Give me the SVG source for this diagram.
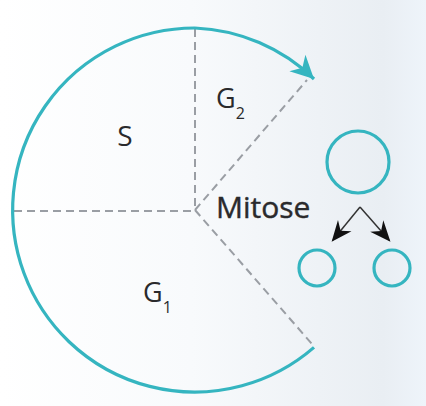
<svg xmlns="http://www.w3.org/2000/svg" width="426" height="406" viewBox="0 0 426 406">
<defs>
<linearGradient id="bg" x1="0" y1="0" x2="1" y2="0">
<stop offset="0" stop-color="#ffffff"/>
<stop offset="0.45" stop-color="#f8fafc"/>
<stop offset="0.9" stop-color="#e9eef3"/>
<stop offset="1" stop-color="#eef4fa"/>
</linearGradient>
<marker id="tealhead" markerUnits="userSpaceOnUse" markerWidth="30" markerHeight="30" refX="2" refY="0" viewBox="-22 -12 26 24" orient="auto" overflow="visible">
<path d="M2,0 L-18,-10 L-12,0 L-18,10 Z" fill="#35b5c0"/>
</marker>
<marker id="blackhead" markerUnits="userSpaceOnUse" markerWidth="24" markerHeight="24" refX="0" refY="0" viewBox="-20 -10 22 20" orient="auto" overflow="visible">
<path d="M2,0 L-17,-8 L-11,0 L-17,8 Z" fill="#111"/>
</marker>
</defs>
<style>
.teal{fill:none;stroke:#35b5c0;stroke-width:3.2}
.dash{fill:none;stroke:#9a9ea4;stroke-width:2;stroke-dasharray:8 5}
.lbl{font-family:"Open Sans","Noto Sans",sans-serif;fill:#2a2a2c}
.blk{fill:none;stroke:#333;stroke-width:1.5}
</style>
<rect width="426" height="406" fill="url(#bg)"/>
<g id="connectors">
<line class="dash" x1="195" y1="29" x2="195" y2="210"/>
<line class="dash" x1="14" y1="211" x2="195" y2="211"/>
<line class="dash" x1="195" y1="210" x2="307" y2="80"/>
<line class="dash" x1="195" y1="210" x2="312" y2="344"/>
<path id="cycle-arc" class="teal" d="M195,28 A182,182 0 1 0 314,347.4"/>
<path id="cycle-arrow" class="teal" d="M195,28 A182,182 0 0 1 314,79" marker-end="url(#tealhead)"/>
<line class="blk" x1="360" y1="207" x2="333" y2="240" marker-end="url(#blackhead)"/>
<line class="blk" x1="360" y1="207" x2="389" y2="240" marker-end="url(#blackhead)"/>
</g>
<g id="phase-S"><text class="lbl" x="125" y="146" font-size="28" text-anchor="middle">S</text></g>
<g id="phase-G2"><text class="lbl" x="216" y="108" font-size="27">G<tspan font-size="16" dy="11">2</tspan></text></g>
<g id="phase-G1"><text class="lbl" x="143" y="302" font-size="27">G<tspan font-size="16" dy="11">1</tspan></text></g>
<g id="phase-Mitose"><text class="lbl" x="216" y="218" font-size="30" stroke="#2a2a2c" stroke-width="0.4">Mitose</text></g>
<g id="mother-cell"><circle class="teal" cx="358" cy="162" r="31"/></g>
<g id="daughter-left"><circle class="teal" cx="317" cy="268" r="18"/></g>
<g id="daughter-right"><circle class="teal" cx="392" cy="268" r="18"/></g>
</svg>
